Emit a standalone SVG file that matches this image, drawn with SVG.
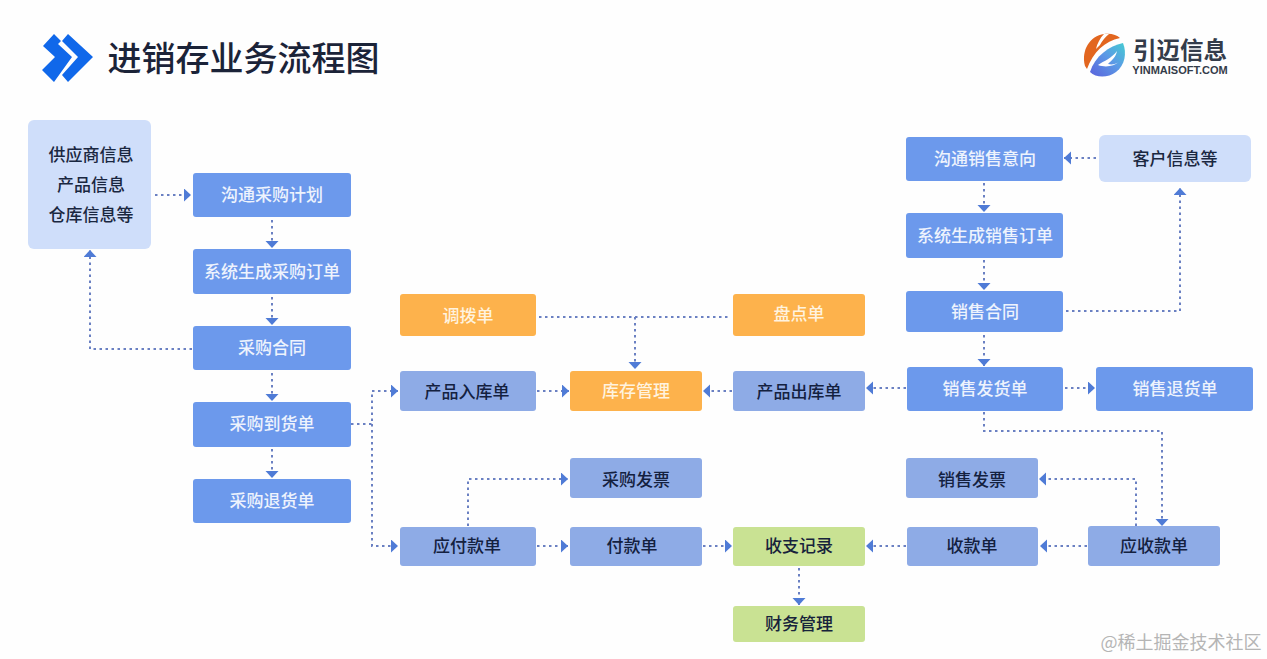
<svg xmlns="http://www.w3.org/2000/svg" width="1267" height="659" viewBox="0 0 1267 659">
<style>
text{font-family:"Noto Sans CJK SC","Noto Sans",sans-serif;text-anchor:middle;font-size:17px;font-weight:500}
.b rect{fill:#6c99ec}.b text{fill:#eef3fd}
.m rect{fill:#8eabe6}.m text{fill:#14213f}
.o rect{fill:#fdb24c}.o text{fill:#fff3df}
.g rect{fill:#c9e293}.g text{fill:#17233b}
.l rect{fill:#cfdefa}.l text{fill:#1a2740}
.c{fill:none;stroke:#6a80c2;stroke-width:2;stroke-dasharray:2.5 3.5}
</style>
<defs>
<linearGradient id="lg" x1="0" y1="1" x2="1" y2="0"><stop offset="0" stop-color="#5a62dc"/><stop offset="0.55" stop-color="#5b9ae6"/><stop offset="1" stop-color="#45cbd2"/></linearGradient>
<marker id="a" markerUnits="userSpaceOnUse" markerWidth="8" markerHeight="14" refX="7" refY="6.5" orient="auto"><path d="M0 0L7 6.5L0 13Z" fill="#4f7bd6"/></marker>
</defs>
<rect width="1267" height="659" fill="#fefefe"/>
<g id="title">
<path d="M68 34L93 57L68 82L62 75L78 57L62 41Z" fill="#1068ea"/>
<path d="M43 46L54 34L61 41L58 44L72 57L54 82L42 70L55 57Z" fill="#1068ea"/>
<text x="243.500" y="71" style="font-size:34px;font-weight:500;fill:#1b2338">进销存业务流程图</text>
</g>
<g id="logo">
<path d="M1085 66C1081 50 1090 36 1104 34C1111 33 1117 35 1120 38C1105 41 1093 52 1087 69Z" fill="#e2661f"/>
<path d="M1104 34C1100 38 1097 44 1096 49L1100 45C1102 41 1105 37 1109 34Z" fill="#fefefe"/>
<path d="M1090 72C1095 56 1109 46 1123 43C1127 53 1125 65 1116 72C1108 78 1096 78 1090 72Z" fill="url(#lg)"/>
<path d="M1098 65C1104 61 1112 58 1117 51C1116 57 1112 60 1108 64C1112 65 1116 64 1119 62C1114 66 1106 68 1098 65Z" fill="#fefefe"/>
<text x="1180" y="58.500" style="font-size:23.500px;font-weight:700;fill:#343c4a">引迈信息</text>
<text x="1180" y="74" style="font-size:11px;font-weight:700;fill:#343c4a;font-family:'Liberation Sans',sans-serif">YINMAISOFT.COM</text>
</g>
<g id="connectors" class="c">
<path d="M155 195H191" marker-end="url(#a)"/>
<path d="M272 220V248" marker-end="url(#a)"/>
<path d="M272 297V325" marker-end="url(#a)"/>
<path d="M272 373V401" marker-end="url(#a)"/>
<path d="M272 449V478" marker-end="url(#a)"/>
<path d="M192 349H90V250" marker-end="url(#a)"/>
<path d="M351 424H372V391H398" marker-end="url(#a)"/>
<path d="M372 424V546H398" marker-end="url(#a)"/>
<path d="M539 317H730"/>
<path d="M635 317V369" marker-end="url(#a)"/>
<path d="M537 391H569" marker-end="url(#a)"/>
<path d="M732 391H703" marker-end="url(#a)"/>
<path d="M906 388H866" marker-end="url(#a)"/>
<path d="M1065 388H1095" marker-end="url(#a)"/>
<path d="M468 526V479H568" marker-end="url(#a)"/>
<path d="M537 546H568" marker-end="url(#a)"/>
<path d="M703 546H732" marker-end="url(#a)"/>
<path d="M906 546H866" marker-end="url(#a)"/>
<path d="M1087 546H1040" marker-end="url(#a)"/>
<path d="M799 568V605" marker-end="url(#a)"/>
<path d="M1136 526V479H1039" marker-end="url(#a)"/>
<path d="M984 412V431H1162V526" marker-end="url(#a)"/>
<path d="M1096 158H1064" marker-end="url(#a)"/>
<path d="M984 183V212" marker-end="url(#a)"/>
<path d="M984 260V290" marker-end="url(#a)"/>
<path d="M984 335V366" marker-end="url(#a)"/>
<path d="M1066 311H1180V188" marker-end="url(#a)"/>
</g>
<g id="n1" class="l"><rect x="28" y="120" width="123" height="129" rx="6"/><text x="91" y="161">供应商信息</text><text x="91" y="191">产品信息</text><text x="91" y="221">仓库信息等</text></g>
<g id="n2" class="b"><rect x="193" y="173" width="158" height="44" rx="3"/><text x="272" y="201">沟通采购计划</text></g>
<g id="n3" class="b"><rect x="193" y="249" width="158" height="45" rx="3"/><text x="272" y="278">系统生成采购订单</text></g>
<g id="n4" class="b"><rect x="193" y="326" width="158" height="44" rx="3"/><text x="272" y="354">采购合同</text></g>
<g id="n5" class="b"><rect x="193" y="402" width="158" height="45" rx="3"/><text x="272" y="430">采购到货单</text></g>
<g id="n6" class="b"><rect x="193" y="479" width="158" height="44" rx="3"/><text x="272" y="507">采购退货单</text></g>
<g id="n7" class="o"><rect x="400" y="294" width="136" height="42" rx="3"/><text x="468" y="322">调拨单</text></g>
<g id="n8" class="o"><rect x="733" y="294" width="132" height="42" rx="3"/><text x="799" y="320">盘点单</text></g>
<g id="n9" class="m"><rect x="400" y="371" width="136" height="40" rx="3"/><text x="467" y="398">产品入库单</text></g>
<g id="n10" class="o"><rect x="570" y="371" width="132" height="40" rx="3"/><text x="636" y="397">库存管理</text></g>
<g id="n11" class="m"><rect x="733" y="371" width="132" height="40" rx="3"/><text x="799" y="398">产品出库单</text></g>
<g id="n12" class="m"><rect x="570" y="458" width="132" height="40" rx="3"/><text x="636" y="486">采购发票</text></g>
<g id="n13" class="m"><rect x="400" y="527" width="136" height="39" rx="3"/><text x="467" y="552">应付款单</text></g>
<g id="n14" class="m"><rect x="570" y="527" width="132" height="39" rx="3"/><text x="632" y="552">付款单</text></g>
<g id="n15" class="g"><rect x="733" y="527" width="132" height="39" rx="3"/><text x="799" y="552">收支记录</text></g>
<g id="n16" class="g"><rect x="733" y="606" width="132" height="36" rx="3"/><text x="799" y="630">财务管理</text></g>
<g id="n17" class="m"><rect x="906" y="458" width="132" height="40" rx="3"/><text x="972" y="486">销售发票</text></g>
<g id="n18" class="m"><rect x="907" y="527" width="131" height="39" rx="3"/><text x="972" y="552">收款单</text></g>
<g id="n19" class="m"><rect x="1088" y="526" width="132" height="40" rx="3"/><text x="1154" y="552">应收款单</text></g>
<g id="n20" class="b"><rect x="906" y="137" width="157" height="44" rx="3"/><text x="985" y="165">沟通销售意向</text></g>
<g id="n21" class="l"><rect x="1099" y="135" width="152" height="47" rx="6"/><text x="1175" y="165">客户信息等</text></g>
<g id="n22" class="b"><rect x="906" y="213" width="157" height="45" rx="3"/><text x="985" y="242">系统生成销售订单</text></g>
<g id="n23" class="b"><rect x="906" y="291" width="157" height="41" rx="3"/><text x="985" y="318">销售合同</text></g>
<g id="n24" class="b"><rect x="907" y="367" width="156" height="44" rx="3"/><text x="985" y="395">销售发货单</text></g>
<g id="n25" class="b"><rect x="1096" y="367" width="157" height="44" rx="3"/><text x="1175" y="395">销售退货单</text></g>
<text x="1181" y="649" style="font-size:18px;font-weight:400;fill:#b5b5b5">@稀土掘金技术社区</text>
</svg>
